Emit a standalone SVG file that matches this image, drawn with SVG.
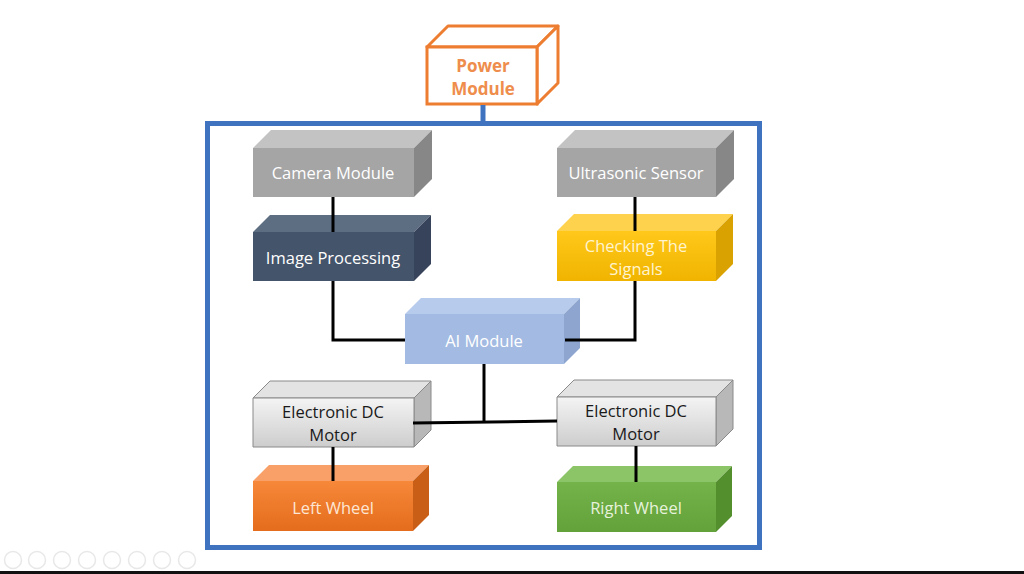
<svg xmlns="http://www.w3.org/2000/svg" width="1024" height="574" viewBox="0 0 1024 574">
<defs>
<linearGradient id="gMotor" x1="0" y1="0" x2="0" y2="1"><stop offset="0" stop-color="#f4f4f4"/><stop offset="1" stop-color="#cdcdcd"/></linearGradient>
<linearGradient id="gYel" x1="0" y1="0" x2="0" y2="1"><stop offset="0" stop-color="#ffc81a"/><stop offset="1" stop-color="#f0b400"/></linearGradient>
<linearGradient id="gOr" x1="0" y1="0" x2="0" y2="1"><stop offset="0" stop-color="#f7883a"/><stop offset="1" stop-color="#e46c1c"/></linearGradient>
<linearGradient id="gGr" x1="0" y1="0" x2="0" y2="1"><stop offset="0" stop-color="#74b34a"/><stop offset="1" stop-color="#63a13a"/></linearGradient>
</defs>
<style>
text{font-family:"Open Sans","Noto Sans","Liberation Sans",sans-serif;font-size:16.5px;text-anchor:middle;dominant-baseline:central}
.w{fill:#ffffff}
.conn{stroke:#000;stroke-width:3;fill:none}
.gray .f{fill:#a5a5a5}.gray .t{fill:#c3c3c3}.gray .s{fill:#878787}
.navy .f{fill:#44546a}.navy .t{fill:#5d6d82}.navy .s{fill:#36435a}
.yel .f{fill:url(#gYel)}.yel .t{fill:#ffd24d}.yel .s{fill:#d9a200}
.ai .f{fill:#a3bbe2}.ai .t{fill:#b7cbec}.ai .s{fill:#8ea6cf}
.mot .f{fill:url(#gMotor)}.mot .t{fill:#e3e3e3}.mot .s{fill:#b8b8b8}
.mot polygon{stroke:#8a8a8a;stroke-width:1}
.org .f{fill:url(#gOr)}.org .t{fill:#f8a067}.org .s{fill:#c95e16}
.grn .f{fill:url(#gGr)}.grn .t{fill:#8cc468}.grn .s{fill:#548f2e}
.ico{fill:none;stroke:#e8e8e8;stroke-width:1.5}
.pw{fill:#ee8d4c;font-weight:bold;font-size:17px}
</style>
<rect width="1024" height="574" fill="#ffffff"/>

<!-- frame -->
<rect x="207.5" y="123.5" width="552" height="424" fill="none" stroke="#3f73c0" stroke-width="5"/>

<g id="power">
<polygon points="427,47 448,26 558,26 537,47" fill="#fff" stroke="#ed7d31" stroke-width="3" stroke-linejoin="round"/>
<polygon points="537,47 558,26 558,83 537,104" fill="#fff" stroke="#ed7d31" stroke-width="3" stroke-linejoin="round"/>
<rect x="427" y="47" width="110" height="57" fill="#fff" stroke="#ed7d31" stroke-width="3"/>
<text class="pw" x="483" y="65">Power</text>
<text class="pw" x="483" y="88">Module</text>
</g>

<g id="camera" class="gray">
<polygon class="t" points="253,148 271,130 432,130 414,148"/>
<polygon class="s" points="414,148 432,130 432,179 414,197"/>
<polygon class="f" points="253,148 414,148 414,197 253,197"/>
<text class="w" x="333" y="172">Camera Module</text>
</g>

<g id="ultrasonic" class="gray">
<polygon class="t" points="557,148 575,130 734,130 716,148"/>
<polygon class="s" points="716,148 734,130 734,179 716,197"/>
<polygon class="f" points="557,148 716,148 716,197 557,197"/>
<text class="w" x="636" y="172">Ultrasonic Sensor</text>
</g>

<g id="imageproc" class="navy">
<polygon class="t" points="253,232 270,215 431,215 414,232"/>
<polygon class="s" points="414,232 431,215 431,264 414,281"/>
<polygon class="f" points="253,232 414,232 414,281 253,281"/>
<text class="w" x="333" y="257">Image Processing</text>
</g>

<g id="checking" class="yel">
<polygon class="t" points="557,231 574,214 733,214 716,231"/>
<polygon class="s" points="716,231 733,214 733,264 716,281"/>
<polygon class="f" points="557,231 716,231 716,281 557,281"/>
<text x="636" y="245" fill="#fff4cf">Checking The</text>
<text x="636" y="268" fill="#fff4cf">Signals</text>
</g>

<g id="ai" class="ai">
<polygon class="t" points="405,314 421,298 580,298 564,314"/>
<polygon class="s" points="564,314 580,298 580,348 564,364"/>
<polygon class="f" points="405,314 564,314 564,364 405,364"/>
<text class="w" x="484" y="340">AI Module</text>
</g>

<g id="motorL" class="mot">
<polygon class="t" points="253,398 270,381 431,381 414,398"/>
<polygon class="s" points="414,398 431,381 431,430 414,447"/>
<polygon class="f" points="253,398 414,398 414,447 253,447"/>
<text x="333" y="411" fill="#1a1a1a">Electronic DC</text>
<text x="333" y="434" fill="#1a1a1a">Motor</text>
</g>

<g id="motorR" class="mot">
<polygon class="t" points="557,397 574,380 733,380 716,397"/>
<polygon class="s" points="716,397 733,380 733,429 716,446"/>
<polygon class="f" points="557,397 716,397 716,446 557,446"/>
<text x="636" y="410" fill="#1a1a1a">Electronic DC</text>
<text x="636" y="433" fill="#1a1a1a">Motor</text>
</g>

<g id="leftwheel" class="org">
<polygon class="t" points="253,481 269,465 429,465 413,481"/>
<polygon class="s" points="413,481 429,465 429,515 413,531"/>
<polygon class="f" points="253,481 413,481 413,531 253,531"/>
<text x="333" y="507" fill="#fde6d4">Left Wheel</text>
</g>

<g id="rightwheel" class="grn">
<polygon class="t" points="557,482 573,466 732,466 716,482"/>
<polygon class="s" points="716,482 732,466 732,516 716,532"/>
<polygon class="f" points="557,482 716,482 716,532 557,532"/>
<text x="636" y="507" fill="#e6f2dc">Right Wheel</text>
</g>

<g id="connectors">
<line x1="483" y1="105" x2="483" y2="121" stroke="#3f73c0" stroke-width="5"/>
<path class="conn" d="M333,197 V232"/>
<path class="conn" d="M635,197 V231"/>
<path class="conn" d="M333,281 V340 H405"/>
<path class="conn" d="M635,281 V340 H565"/>
<path class="conn" d="M484,364 V422"/>
<path class="conn" d="M413,423 L557,421"/>
<path class="conn" d="M333,447 V481"/>
<path class="conn" d="M636,446 V482"/>
</g>

<g id="toolbar">
<circle class="ico" cx="13" cy="560" r="8.5"/>
<circle class="ico" cx="37" cy="560" r="8.5"/>
<circle class="ico" cx="62" cy="560" r="8.5"/>
<circle class="ico" cx="87" cy="560" r="8.5"/>
<circle class="ico" cx="112" cy="560" r="8.5"/>
<circle class="ico" cx="137" cy="560" r="8.5"/>
<circle class="ico" cx="162" cy="560" r="8.5"/>
<circle class="ico" cx="187" cy="560" r="8.5"/>
</g>
<rect x="0" y="571" width="1024" height="3" fill="#111"/>
</svg>
